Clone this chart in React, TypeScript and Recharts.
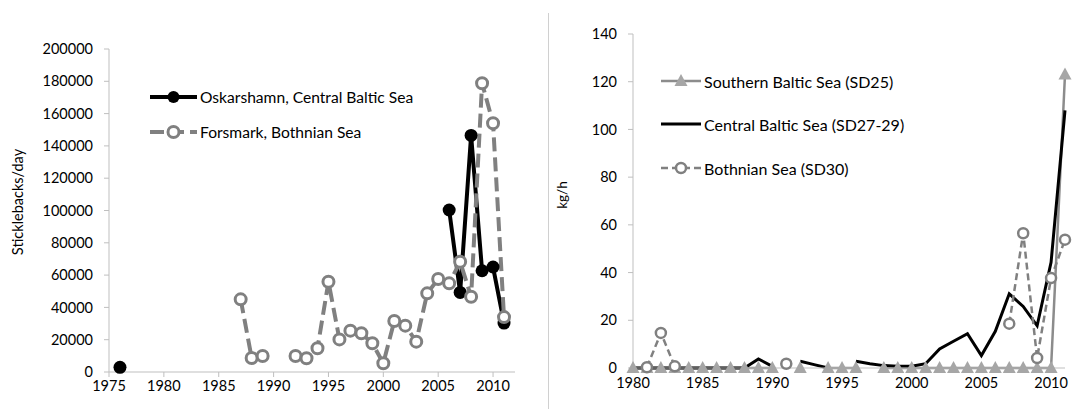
// Two-panel stickleback chart: power-plant catches (left) and trawl survey kg/h (right).
// Legends are plain HTML over the plots so the Excel-style placement holds.

import { Line, LineChart, XAxis, YAxis } from "recharts";

const FONT = "Lato, 'Open Sans', sans-serif";
const AXIS = "#bfbfbf";
const BLACK = "#000000";
const GREY = "#808080";
const TRI_FILL = "#a6a6a6";
const TRI_LINE = "#8c8c8c";

// ---- left panel: sticklebacks/day
const LEFT_YEARS = [
  1976, 1987, 1988, 1989, 1990, 1991, 1992, 1993, 1994, 1995, 1996, 1997, 1998,
  1999, 2000, 2001, 2002, 2003, 2004, 2005, 2006, 2007, 2008, 2009, 2010, 2011,
];
const OSKARSHAMN = [
  2900, null, null, null, null, null, null, null, null, null, null, null, null,
  null, null, null, null, null, null, null, 100300, 49300, 146500, 62700, 65000, 30300,
];
const FORSMARK = [
  null, 45000, 8700, 9900, null, null, 9900, 8500, 14700, 55900, 20200, 25600, 24000,
  17800, 5400, 31600, 28700, 18800, 48700, 57600, 54900, 68300, 46600, 178800, 154000, 34000,
];
const LEFT_X_TICKS = [1975, 1980, 1985, 1990, 1995, 2000, 2005, 2010];
const LEFT_Y_TICKS = [0, 20000, 40000, 60000, 80000, 100000, 120000, 140000, 160000, 180000, 200000];

// ---- right panel: kg/h
const RIGHT_YEARS = [
  1980, 1981, 1982, 1983, 1984, 1985, 1986, 1987, 1988, 1989, 1990, 1991, 1992, 1993, 1994, 1995,
  1996, 1997, 1998, 1999, 2000, 2001, 2002, 2003, 2004, 2005, 2006, 2007, 2008, 2009, 2010, 2011,
];
const SOUTHERN = [
  0, 0, 0, 0, 0, 0, 0, 0, 0, 0, 0, null, 0, null, 0, 0,
  0, null, 0, 0, 0, 0, 0, 0, 0, 0, 0, 0, 0, 0, 0, 123,
];
const CENTRAL = [
  0, 0, 0, 0, 0, 0, 0, 0, 0, 3.8, 0.7, null, 2.8, 1.4, 0, null,
  2.8, 1.8, 1.0, 0.7, 0.7, 1.8, 8.0, 11.2, 14.4, 5.2, 15.4, 31.1, 25.8, 17.7, 44.3, 108,
];
const BOTHNIAN = [
  null, 0.3, 14.7, 0.7, null, null, null, null, null, null, null, 1.8, null, null, null, null,
  null, null, null, null, null, null, null, null, null, null, null, 18.6, 56.5, 4.2, 37.7, 53.8,
];
const RIGHT_X_TICKS = [1980, 1985, 1990, 1995, 2000, 2005, 2010];
const RIGHT_Y_TICKS = [0, 20, 40, 60, 80, 100, 120, 140];

const leftData = LEFT_YEARS.map((year, i) => ({
  year,
  oskarshamn: OSKARSHAMN[i],
  forsmark: FORSMARK[i],
}));
const rightData = RIGHT_YEARS.map((year, i) => ({
  year,
  southern: SOUTHERN[i],
  central: CENTRAL[i],
  bothnian: BOTHNIAN[i],
}));

const tick = { fill: "#000", fontSize: 14.5, fontFamily: FONT };

function Triangle(props: any) {
  const { cx, cy, index } = props;
  if (cx == null || cy == null) return <g key={`t${index}`} />;
  return (
    <path
      key={`t${index}`}
      d={`M${cx},${cy - 7} L${cx + 6.5},${cy + 5} L${cx - 6.5},${cy + 5} Z`}
      fill={TRI_FILL}
      stroke="none"
    />
  );
}

function LegendRow(props: {
  top: number;
  left: number;
  sample: React.ReactNode;
  text: string;
  w: number;
  size: number;
}) {
  return (
    <div
      style={{
        position: "absolute",
        top: props.top - 10,
        left: props.left,
        height: 20,
        display: "flex",
        alignItems: "center",
        whiteSpace: "nowrap",
        fontFamily: FONT,
        fontSize: props.size,
        color: "#000",
      }}
    >
      <svg width={props.w} height={20} style={{ marginRight: 3 }}>
        {props.sample}
      </svg>
      <span>{props.text}</span>
    </div>
  );
}

export default function App() {
  return (
    <div style={{ position: "absolute", left: 0, top: 0, width: 1080, height: 409, background: "#fff" }}>
      <LineChart
        width={548}
        height={409}
        data={leftData}
        margin={{ top: 49, right: 33, bottom: 7, left: 0 }}
        style={{ position: "absolute", left: 0, top: 0 }}
      >
        <XAxis
          dataKey="year"
          type="number"
          domain={[1975, 2012]}
          ticks={LEFT_X_TICKS}
          allowDataOverflow
          height={30}
          tick={tick}
          tickSize={5}
          tickMargin={4}
          stroke={AXIS}
        />
        <YAxis
          type="number"
          domain={[0, 200000]}
          ticks={LEFT_Y_TICKS}
          width={109}
          tick={tick}
          tickSize={5}
          tickMargin={11}
          stroke={AXIS}
        />
        <Line
          dataKey="oskarshamn"
          stroke={BLACK}
          strokeWidth={4}
          dot={{ r: 6.5, fill: BLACK, stroke: BLACK, strokeWidth: 0 }}
          isAnimationActive={false}
          connectNulls={false}
        />
        <Line
          dataKey="forsmark"
          stroke={GREY}
          strokeWidth={4}
          strokeDasharray="14 6"
          dot={{ r: 5.5, fill: "#fff", stroke: GREY, strokeWidth: 3, strokeDasharray: "" }}
          isAnimationActive={false}
          connectNulls={false}
        />
      </LineChart>

      <LineChart
        width={532}
        height={409}
        data={rightData}
        margin={{ top: 34, right: 15, bottom: 11, left: 0 }}
        style={{ position: "absolute", left: 548, top: 0 }}
      >
        <XAxis
          dataKey="year"
          type="number"
          domain={[1980, 2011]}
          ticks={RIGHT_X_TICKS}
          height={30}
          tick={tick}
          tickLine={false}
          tickSize={5}
          tickMargin={5}
          stroke={AXIS}
        />
        <YAxis
          type="number"
          domain={[0, 140]}
          ticks={RIGHT_Y_TICKS}
          width={85}
          tick={tick}
          tickSize={5}
          tickMargin={11}
          stroke={AXIS}
        />
        <Line
          dataKey="southern"
          stroke={TRI_LINE}
          strokeWidth={2.5}
          dot={<Triangle />}
          isAnimationActive={false}
          connectNulls={false}
        />
        <Line
          dataKey="central"
          stroke={BLACK}
          strokeWidth={3}
          dot={false}
          isAnimationActive={false}
          connectNulls={false}
        />
        <Line
          dataKey="bothnian"
          stroke={GREY}
          strokeWidth={2.5}
          strokeDasharray="7 4"
          dot={{ r: 5, fill: "#fff", stroke: GREY, strokeWidth: 2.5, strokeDasharray: "" }}
          isAnimationActive={false}
          connectNulls={false}
        />
      </LineChart>

      {/* panel separator */}
      <div style={{ position: "absolute", left: 548, top: 13, width: 1, height: 396, background: "#d0d0d0" }} />

      {/* axis titles */}
      <div
        style={{
          position: "absolute",
          left: 17,
          top: 202,
          transform: "translate(-50%, -50%) rotate(-90deg)",
          fontFamily: FONT,
          fontSize: 14.5,
          whiteSpace: "nowrap",
        }}
      >
        Sticklebacks/day
      </div>
      <div
        style={{
          position: "absolute",
          left: 562,
          top: 195,
          transform: "translate(-50%, -50%) rotate(-90deg)",
          fontFamily: FONT,
          fontSize: 13.5,
          whiteSpace: "nowrap",
        }}
      >
        kg/h
      </div>

      {/* left legend */}
      <LegendRow
        top={97}
        left={150}
        w={47}
        size={15.6}
        text="Oskarshamn, Central Baltic Sea"
        sample={
          <>
            <line x1={0} y1={10} x2={47} y2={10} stroke={BLACK} strokeWidth={4} />
            <circle cx={23.5} cy={10} r={6} fill={BLACK} />
          </>
        }
      />
      <LegendRow
        top={132}
        left={150}
        w={47}
        size={15.6}
        text="Forsmark, Bothnian Sea"
        sample={
          <>
            <line x1={0} y1={10} x2={47} y2={10} stroke={GREY} strokeWidth={4} strokeDasharray="14 6" />
            <circle cx={23.5} cy={10} r={5.5} fill="#fff" stroke={GREY} strokeWidth={3} />
          </>
        }
      />

      {/* right legend */}
      <LegendRow
        top={81}
        left={661}
        w={40}
        size={16}
        text="Southern Baltic Sea (SD25)"
        sample={
          <>
            <line x1={0} y1={10} x2={40} y2={10} stroke={TRI_LINE} strokeWidth={2.5} />
            <path d="M20,3 L26.5,15 L13.5,15 Z" fill={TRI_FILL} />
          </>
        }
      />
      <LegendRow
        top={124}
        left={661}
        w={40}
        size={16}
        text="Central Baltic Sea (SD27-29)"
        sample={<line x1={0} y1={10} x2={40} y2={10} stroke={BLACK} strokeWidth={3} />}
      />
      <LegendRow
        top={168}
        left={661}
        w={40}
        size={16}
        text="Bothnian Sea (SD30)"
        sample={
          <>
            <line x1={0} y1={10} x2={40} y2={10} stroke={GREY} strokeWidth={2.5} strokeDasharray="7 4" />
            <circle cx={20} cy={10} r={5} fill="#fff" stroke={GREY} strokeWidth={2.5} />
          </>
        }
      />
    </div>
  );
}
